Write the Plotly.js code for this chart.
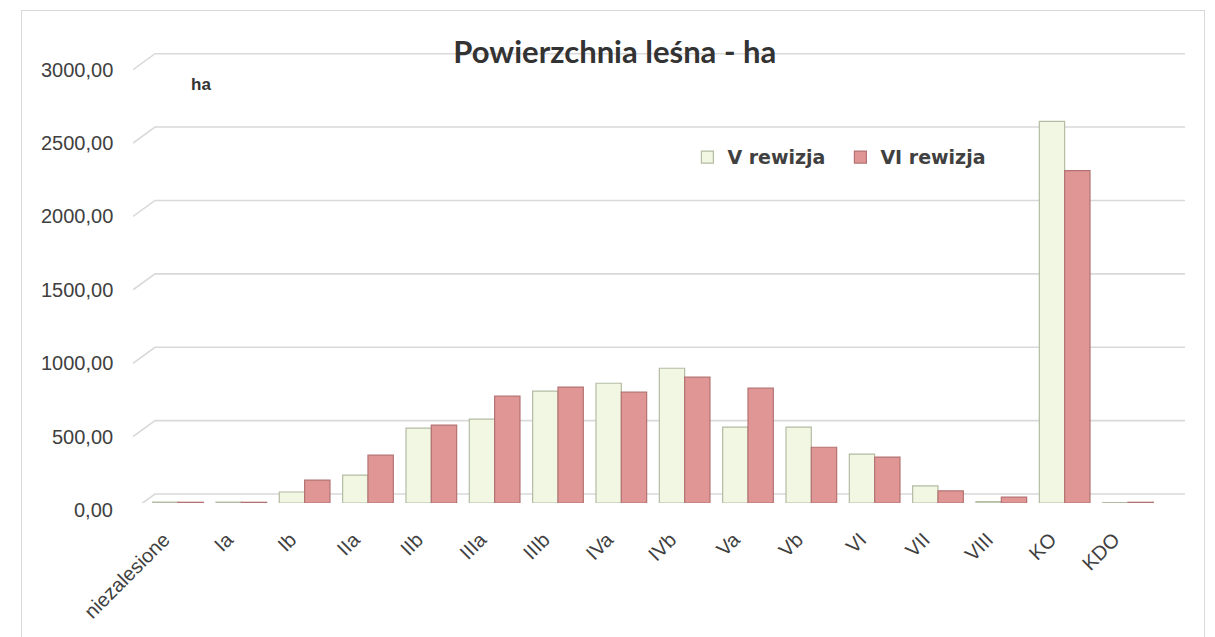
<!DOCTYPE html>
<html>
<head>
<meta charset="utf-8">
<script src="https://cdn.plot.ly/plotly-3.0.1.min.js"></script>
<style>
  html, body { margin: 0; padding: 0; background: #ffffff; }
  #frame { position: absolute; left: 21px; top: 10px; width: 1184px; height: 640px; border: 1px solid #d9d9d9; box-sizing: border-box; }
  #chart { position: absolute; left: 0; top: 0; width: 1215px; height: 637px; }
</style>
</head>
<body>
<div id="frame"></div>
<div id="chart"></div>
<script>
const categories = ["niezalesione", "Ia", "Ib", "IIa", "IIb", "IIIa", "IIIb", "IVa", "IVb", "Va", "Vb", "VI", "VII", "VIII", "KO", "KDO"];
const seriesV = [6, 6, 75, 190, 510, 571, 762, 816, 918, 517, 517, 333, 116, 10, 2600, 3];
const seriesVI = [5, 5, 156, 326, 530, 728, 790, 755, 857, 782, 380, 313, 82, 40, 2265, 5];
const yTicks = [0, 500, 1000, 1500, 2000, 2500, 3000];
const yTickLabels = ["0,00", "500,00", "1000,00", "1500,00", "2000,00", "2500,00", "3000,00"];

const traces = [
  {
    type: "bar", name: "V rewizja", x: categories, y: seriesV,
    marker: { color: "#f1f7e2", line: { color: "#b4bca4", width: 1.2 } },
    hoverinfo: "x+y"
  },
  {
    type: "bar", name: "VI rewizja", x: categories, y: seriesVI,
    marker: { color: "#e19696", line: { color: "#b47272", width: 1.2 } },
    hoverinfo: "x+y"
  }
];

// 3D-like gridlines: slanted stub from the front edge to the back wall, then horizontal
const gridShapes = yTicks.map(v => ({
  type: "path", layer: "below",
  xref: "x", yref: "y",
  xsizemode: "pixel", ysizemode: "pixel",
  xanchor: -0.71, yanchor: v,
  path: "M0,-7 L22,9 L1052,9",
  line: { color: "#d9d9d9", width: 1.6 }
}));

const tickAnnotations = yTicks.map((v, i) => ({
  text: yTickLabels[i], xref: "paper", yref: "y", x: 0, y: v,
  xanchor: "right", yanchor: "middle", xshift: -18, yshift: -7,
  showarrow: false,
  font: { family: "'Liberation Sans', Arial, sans-serif", size: 20, color: "#404040" }
}));

const layout = {
  width: 1215, height: 637,
  paper_bgcolor: "rgba(0,0,0,0)", plot_bgcolor: "rgba(0,0,0,0)",
  margin: { l: 133, r: 30, t: 48, b: 134 },
  title: {
    text: "<b>Powierzchnia leśna - ha</b>",
    font: { family: "Lato, 'Open Sans', sans-serif", size: 31, color: "#333333" },
    x: 0.506, xanchor: "center", y: 0.918, yanchor: "middle"
  },
  barmode: "group", bargap: 0.2, bargroupgap: 0,
  xaxis: {
    type: "category", range: [-0.71, 15.9],
    tickangle: -45, showgrid: false, zeroline: false, showline: false, ticks: "",
    ticklabelstandoff: 20, ticklabelshift: -14,
    tickfont: { family: "'Liberation Sans', Arial, sans-serif", size: 20, color: "#404040" }
  },
  yaxis: {
    range: [0, 3100],
    showgrid: false, zeroline: false, showline: false, ticks: "", showticklabels: false
  },
  showlegend: true,
  legend: {
    orientation: "h", x: 0.527, y: 0.76, xanchor: "left", yanchor: "middle",
    font: { family: "'DejaVu Sans', sans-serif", size: 19, color: "#404040", weight: "bold" },
    itemwidth: 30, traceorder: "normal", bgcolor: "rgba(0,0,0,0)",
    entrywidth: 108, entrywidthmode: "pixels"
  },
  annotations: [{
    text: "<b>ha</b>", xref: "paper", yref: "paper", x: 0.0646, y: 0.919,
    showarrow: false, xanchor: "center", yanchor: "middle",
    font: { family: "'Liberation Sans', Arial, sans-serif", size: 17, color: "#333333" }
  }].concat(tickAnnotations),
  shapes: gridShapes
};

Plotly.newPlot("chart", traces, layout, { displayModeBar: false, staticPlot: true });
</script>
</body>
</html>
